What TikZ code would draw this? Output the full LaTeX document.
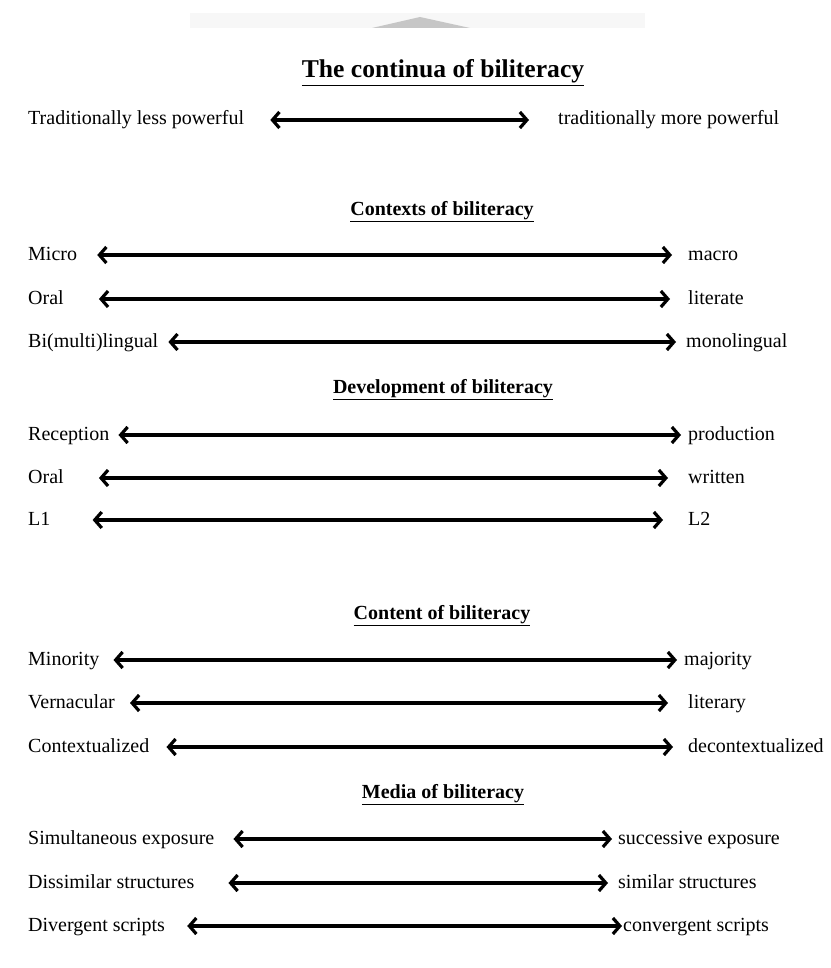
\documentclass[tikz,border=0pt]{standalone}
\usepackage{fontspec}
\setmainfont{Liberation Serif}
\usetikzlibrary{arrows.meta}
\usetikzlibrary{positioning}

\begin{document}
\begin{tikzpicture}[
    x=1pt, y=-1pt,
    font=\fontsize{20}{24}\selectfont
]
\tikzset{
    pole/.style = {anchor=base west, inner sep=0pt},
    heading/.style = {anchor=base, inner sep=0pt, font=\fontsize{20}{24}\selectfont\bfseries},
    twoway/.style = {{Straight Barb[length=7pt,width=16pt]}-{Straight Barb[length=7pt,width=16pt]}, line width=3.2pt}
}
\useasboundingbox (0,0) rectangle (830,968);
% faint smudge at the top of the scan
\fill[gray!6] (190,13) rectangle (645,28);
\fill[gray!45] (372,28) -- (420,17) -- (470,28) -- cycle;

\node[anchor=base, inner sep=0pt, font=\fontsize{25.6}{30}\selectfont\bfseries] at (443,78) (title) {\underline{The continua of biliteracy}};
\node[pole] at (28,125)  (less) {Traditionally less powerful};
\node[pole] at (558,125) (more) {traditionally more powerful};
\draw[twoway, shorten <=26pt, shorten >=29pt] ([yshift=5pt]less.base east) -- ([yshift=5pt]more.base west);

\node[heading] at (442,215) (contexts) {\underline{Contexts of biliteracy}};
\node[pole] at (28,260)  (micro) {Micro};
\node[pole] at (688,260) (macro) {macro};
\node[pole] at (28,304)  (oral) {Oral};
\node[pole] at (688,304) (literate) {literate};
\node[pole] at (28,347)  (bimulti) {Bi(multi)lingual};
\node[pole] at (686,347) (mono) {monolingual};
\draw[twoway, shorten <=20pt, shorten >=16pt] ([yshift=5pt]micro.base east) -- ([yshift=5pt]macro.base west);
\draw[twoway, shorten <=35pt, shorten >=18pt] ([yshift=5pt]oral.base east) -- ([yshift=5pt]literate.base west);
\draw[twoway, shorten <=10pt, shorten >=10pt] ([yshift=5pt]bimulti.base east) -- ([yshift=5pt]mono.base west);

\node[heading] at (443,393) (develop) {\underline{Development of biliteracy}};
\node[pole] at (28,440)  (recept) {Reception};
\node[pole] at (688,440) (product) {production};
\node[pole] at (28,483)  (oraltwo) {Oral};
\node[pole] at (688,483) (written) {written};
\node[pole] at (28,525)  (lone) {L1};
\node[pole] at (688,525) (ltwo) {L2};
\draw[twoway, shorten <=9pt, shorten >=7pt] ([yshift=5pt]recept.base east) -- ([yshift=5pt]product.base west);
\draw[twoway, shorten <=35pt, shorten >=20pt] ([yshift=5pt]oraltwo.base east) -- ([yshift=5pt]written.base west);
\draw[twoway, shorten <=42pt, shorten >=25pt] ([yshift=5pt]lone.base east) -- ([yshift=5pt]ltwo.base west);

\node[heading] at (442,619) (content) {\underline{Content of biliteracy}};
\node[pole] at (28,665)  (minor) {Minority};
\node[pole] at (684,665) (major) {majority};
\node[pole] at (28,708)  (vernac) {Vernacular};
\node[pole] at (688,708) (literary) {literary};
\node[pole] at (28,752)  (context) {Contextualized};
\node[pole] at (688,752) (decontext) {decontextualized};
\draw[twoway, shorten <=14pt, shorten >=7pt] ([yshift=5pt]minor.base east) -- ([yshift=5pt]major.base west);
\draw[twoway, shorten <=15pt, shorten >=20pt] ([yshift=5pt]vernac.base east) -- ([yshift=5pt]literary.base west);
\draw[twoway, shorten <=17pt, shorten >=15pt] ([yshift=5pt]context.base east) -- ([yshift=5pt]decontext.base west);

\node[heading] at (443,798) (media) {\underline{Media of biliteracy}};
\node[pole] at (28,844)  (simul) {Simultaneous exposure};
\node[pole] at (618,844) (success) {successive exposure};
\node[pole] at (28,888)  (dissim) {Dissimilar structures};
\node[pole] at (618,888) (similar) {similar structures};
\node[pole] at (28,931)  (diverg) {Divergent scripts};
\node[pole] at (623,931) (converg) {convergent scripts};
\draw[twoway, shorten <=19pt, shorten >=6pt] ([yshift=5pt]simul.base east) -- ([yshift=5pt]success.base west);
\draw[twoway, shorten <=34pt, shorten >=10pt] ([yshift=5pt]dissim.base east) -- ([yshift=5pt]similar.base west);
\draw[twoway, shorten <=22pt, shorten >=1pt] ([yshift=5pt]diverg.base east) -- ([yshift=5pt]converg.base west);
\end{tikzpicture}
\end{document}
